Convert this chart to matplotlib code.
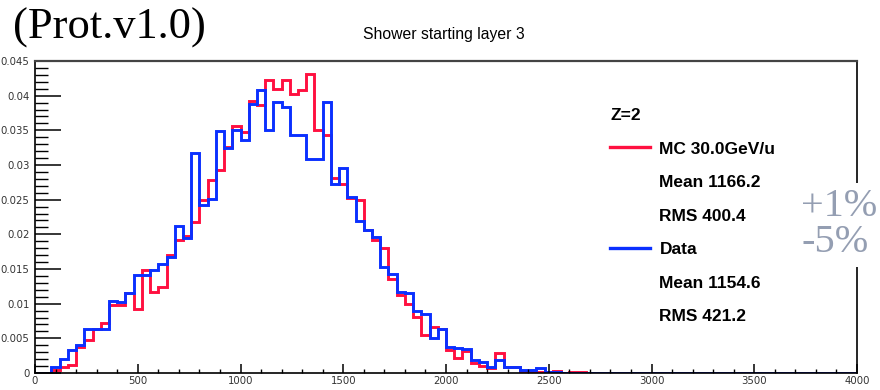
import numpy as np
import matplotlib.pyplot as plt
from matplotlib.lines import Line2D
from matplotlib.ticker import MultipleLocator, FuncFormatter

# 100 bins de 40 entre 0 y 4000
edges = np.arange(0, 4001, 40)

mc = [0, 0, 0.0005, 0.0008, 0.0011, 0.0037, 0.0048, 0.0063, 0.0072, 0.0098,
      0.0098, 0.0116, 0.0093, 0.0149, 0.0117, 0.0124, 0.0170, 0.0192, 0.0197, 0.0218,
      0.0249, 0.0278, 0.0293, 0.0326, 0.0356, 0.0348, 0.0393, 0.0386, 0.0423, 0.0410,
      0.0423, 0.0403, 0.0408, 0.0431, 0.0350, 0.0343, 0.0281, 0.0273, 0.0252, 0.0249,
      0.0206, 0.0192, 0.0180, 0.0136, 0.0113, 0.0100, 0.0081, 0.0055, 0.0067, 0.0064,
      0.0033, 0.0021, 0.0032, 0.0015, 0.0010, 0.0007, 0.0029, 0.0008, 0.0008, 0.0003,
      0.0002, 0.0001, 0.0002, 0.0003, 0, 0.0002, 0.0002]
data = [0, 0, 0.0008, 0.0020, 0.0033, 0.0041, 0.0063, 0.0063, 0.0063, 0.0104,
        0.0102, 0.0116, 0.0142, 0.0142, 0.0149, 0.0157, 0.0168, 0.0212, 0.0195, 0.0317,
        0.0242, 0.0251, 0.0349, 0.0325, 0.0351, 0.0336, 0.0388, 0.0408, 0.0350, 0.0391,
        0.0384, 0.0343, 0.0343, 0.0309, 0.0309, 0.0391, 0.0273, 0.0295, 0.0254, 0.0219,
        0.0206, 0.0196, 0.0153, 0.0143, 0.0117, 0.0116, 0.0090, 0.0085, 0.0051, 0.0063,
        0.0038, 0.0036, 0.0035, 0.0019, 0.0016, 0.0008, 0.0019, 0.0008, 0.0008, 0.0005,
        0.0005, 0.0007, 0.0002, 0.0001]

nbins = len(edges) - 1
mc = np.array(mc + [0] * (nbins - len(mc)))
data = np.array(data + [0] * (nbins - len(data)))

titulo = "Shower starting layer 3"
leyenda_mc = ["MC 30.0GeV/u", "Mean 1166.2", "RMS 400.4"]
leyenda_data = ["Data", "Mean 1154.6", "RMS 421.2"]

rojo = '#ff1040'
azul = '#0a30ff'

fig = plt.figure(figsize=(8.8, 3.9), dpi=100)
ax = fig.add_axes([35/880, 1 - 373/390, (857-35)/880, (373-61)/390])

ax.stairs(mc, edges, color=rojo, lw=2.1)
ax.stairs(data, edges, color=azul, lw=2.1)

ax.set_xlim(0, 4000)
ax.set_ylim(0, 0.045)
ax.xaxis.set_major_locator(MultipleLocator(500))
ax.xaxis.set_minor_locator(MultipleLocator(100))
ax.yaxis.set_major_locator(MultipleLocator(0.005))
ax.yaxis.set_minor_locator(MultipleLocator(0.001))
ax.yaxis.set_major_formatter(FuncFormatter(lambda v, p: '%g' % round(v, 4)))
ax.tick_params(axis='y', which='major', direction='in', length=18.5, width=1.1,
               labelsize=7.3, pad=4, labelcolor='#333333')
ax.tick_params(axis='y', which='minor', direction='in', length=9.5, width=1.0)
ax.tick_params(axis='x', which='major', direction='in', length=6.5, width=1.1,
               labelsize=7.3, pad=2, labelcolor='#333333')
ax.tick_params(axis='x', which='minor', direction='in', length=3.2, width=1.0)
for s in ax.spines.values():
    s.set_linewidth(1.2)
ax.spines['top'].set_color('#444444')
ax.spines['top'].set_linewidth(1.6)

fig.text(444/880, 1 - 35/390, titulo, ha='center', va='center',
         fontsize=11.3, family='Liberation Sans')

# leyenda
h_vacio = Line2D([], [], color='none')
handles = [Line2D([], [], color=rojo, lw=2.4), h_vacio, h_vacio,
           Line2D([], [], color=azul, lw=2.4), h_vacio, h_vacio]
labels = leyenda_mc + leyenda_data
leg = ax.legend(handles, labels, title="Z=2", alignment='left', frameon=False,
                loc='upper left', bbox_to_anchor=(610/880, 1 - 108/390),
                bbox_transform=fig.transFigure, borderpad=0, borderaxespad=0,
                handlelength=2.3, handletextpad=0.55, labelspacing=1.06,
                prop={'family': 'Liberation Sans', 'weight': 'bold', 'size': 12.5},
                title_fontproperties={'family': 'Liberation Sans', 'weight': 'bold',
                                      'size': 12.5})

fig.text(13/880, 1 - 39/390, "(Prot.v1.0)", ha='left', va='baseline',
         fontsize=32, family='Liberation Serif')
fig.text(801/880, 1 - 252/390, "+1%\n-5%", ha='left', va='baseline',
         fontsize=29, family='Liberation Serif', color='#949eb2',
         linespacing=0.95,
         bbox=dict(facecolor='white', edgecolor='none', pad=4))

fig.savefig('out.png', dpi=100)
